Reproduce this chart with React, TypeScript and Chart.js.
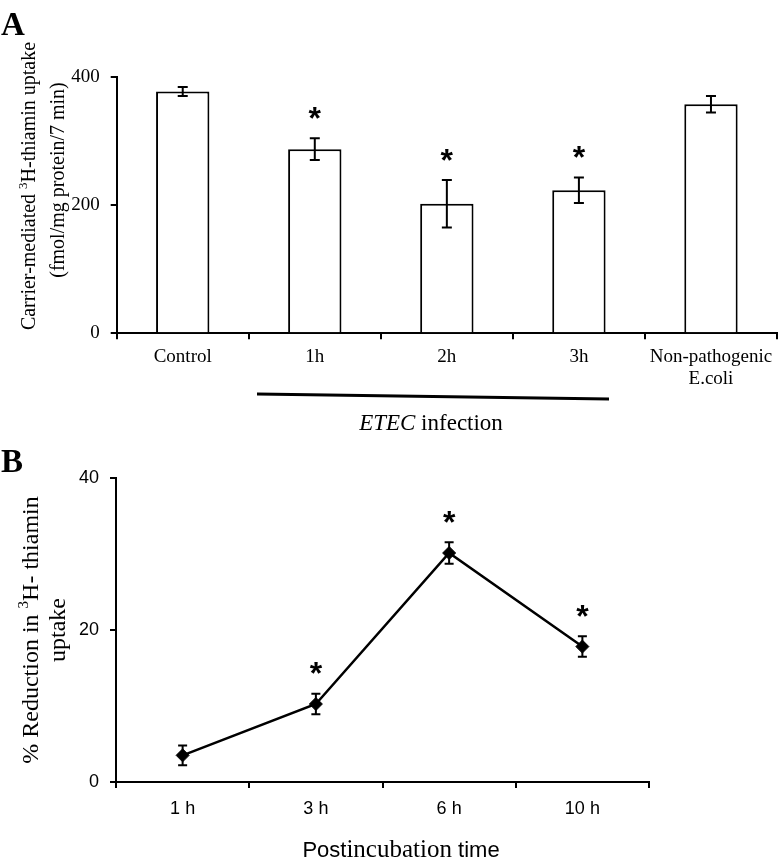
import React, { useEffect, useRef } from "react";
import { Chart, registerables } from "chart.js";

Chart.register(...registerables);

// ---------- Panel A data ----------
const groupLabels: (string | string[])[] = ["Control", "1h", "2h", "3h", ["Non-pathogenic", "E.coli"]];
const uptakeValues = [377, 287, 202, 223, 357];
const uptakeErrors = [7, 17, 37, 20, 13];
const uptakeSignificant = [false, true, true, true, false];
const uptakeTicks = [0, 200, 400];

// ---------- Panel B data ----------
const timeLabels = ["1 h", "3 h", "6 h", "10 h"];
const reductionValues = [3.5, 10.25, 30.1, 17.8];
const reductionErrors = [1.3, 1.35, 1.4, 1.35];
const reductionSignificant = [false, true, true, true];
const reductionTicks = [0, 20, 40];

const SERIF = "'Liberation Serif', 'Times New Roman', serif";
const SANS = "'Liberation Sans', Arial, sans-serif";

type Seg = { text: string; font: string; dy?: number };

function drawRich(ctx: CanvasRenderingContext2D, segs: Seg[], x: number, y: number, rot: number) {
  ctx.save();
  ctx.translate(x, y);
  ctx.rotate(rot);
  ctx.textBaseline = "alphabetic";
  ctx.textAlign = "left";
  ctx.fillStyle = "#000";
  let total = 0;
  const widths = segs.map((s) => {
    ctx.font = s.font;
    const w = ctx.measureText(s.text).width;
    total += w;
    return w;
  });
  let cx = -total / 2;
  segs.forEach((s, i) => {
    ctx.font = s.font;
    ctx.fillText(s.text, cx, s.dy || 0);
    cx += widths[i];
  });
  ctx.restore();
}

function drawStar(ctx: CanvasRenderingContext2D, x: number, cy: number) {
  ctx.save();
  ctx.font = `bold 32px ${SANS}`;
  ctx.textAlign = "center";
  ctx.textBaseline = "alphabetic";
  ctx.fillStyle = "#000";
  ctx.fillText("*", x, cy + 0.55 * 32);
  ctx.restore();
}

function drawErrorBars(
  chart: any,
  values: number[],
  errors: number[],
  significant: boolean[],
  cap: number
) {
  const ctx: CanvasRenderingContext2D = chart.ctx;
  const xs = chart.scales.x;
  const ys = chart.scales.y;
  ctx.save();
  ctx.strokeStyle = "#000";
  ctx.lineWidth = 2;
  values.forEach((v, i) => {
    const x = xs.getPixelForValue(i);
    const yHi = ys.getPixelForValue(v + errors[i]);
    const yLo = ys.getPixelForValue(v - errors[i]);
    ctx.beginPath();
    ctx.moveTo(x, yHi);
    ctx.lineTo(x, yLo);
    ctx.moveTo(x - cap, yHi);
    ctx.lineTo(x + cap, yHi);
    ctx.moveTo(x - cap, yLo);
    ctx.lineTo(x + cap, yLo);
    ctx.stroke();
  });
  ctx.restore();
  values.forEach((v, i) => {
    if (!significant[i]) return;
    const x = xs.getPixelForValue(i);
    const yHi = ys.getPixelForValue(v + errors[i]);
    drawStar(ctx, x, yHi - 27);
  });
}

const panelAPlugin = {
  id: "panelA",
  afterDatasetsDraw(chart: any) {
    drawErrorBars(chart, uptakeValues, uptakeErrors, uptakeSignificant, 5);
  },
  afterDraw(chart: any) {
    const ctx: CanvasRenderingContext2D = chart.ctx;
    ctx.save();
    ctx.font = `bold 33px ${SERIF}`;
    ctx.fillStyle = "#000";
    ctx.textAlign = "left";
    ctx.textBaseline = "alphabetic";
    ctx.fillText("A", 1, 35);
    ctx.restore();
    drawRich(
      ctx,
      [
        { text: "Carrier-mediated ", font: `20px ${SERIF}` },
        { text: "3", font: `13px ${SERIF}`, dy: -8 },
        { text: "H-thiamin uptake", font: `20px ${SERIF}` },
      ],
      35,
      186,
      -Math.PI / 2
    );
    drawRich(ctx, [{ text: "(fmol/mg protein/7 min)", font: `20px ${SERIF}` }], 64, 180, -Math.PI / 2);
    ctx.save();
    ctx.strokeStyle = "#000";
    ctx.lineWidth = 3;
    ctx.beginPath();
    ctx.moveTo(257, 394);
    ctx.lineTo(609, 399);
    ctx.stroke();
    ctx.restore();
    drawRich(
      ctx,
      [
        { text: "ETEC", font: `italic 23px ${SERIF}` },
        { text: " infection", font: `23px ${SERIF}` },
      ],
      431,
      430,
      0
    );
  },
};

const panelBPlugin = {
  id: "panelB",
  beforeDatasetsDraw(chart: any) {
    drawErrorBars(chart, reductionValues, reductionErrors, reductionSignificant, 4.5);
  },
  afterDraw(chart: any) {
    const ctx: CanvasRenderingContext2D = chart.ctx;
    ctx.save();
    ctx.font = `bold 33px ${SERIF}`;
    ctx.fillStyle = "#000";
    ctx.textAlign = "left";
    ctx.textBaseline = "alphabetic";
    ctx.fillText("B", 1, 32);
    ctx.restore();
    drawRich(
      ctx,
      [
        { text: "% Reduction in ", font: `24px ${SERIF}` },
        { text: "3", font: `15px ${SERIF}`, dy: -10 },
        { text: "H- thiamin", font: `24px ${SERIF}` },
      ],
      38,
      190,
      -Math.PI / 2
    );
    drawRich(ctx, [{ text: "uptake", font: `24px ${SERIF}` }], 65, 190, -Math.PI / 2);
    drawRich(
      ctx,
      [
        { text: "Post", font: `22px ${SANS}` },
        { text: "incubation", font: `25px ${SERIF}` },
        { text: " time", font: `22px ${SANS}` },
      ],
      401,
      417,
      0
    );
  },
};

function axisCommon(fontFamily: string, size: number, lineHeight: number, padding: number) {
  return {
    grid: {
      display: true,
      drawOnChartArea: false,
      drawTicks: true,
      tickLength: 6,
      color: "#000",
      lineWidth: 2,
    },
    border: { display: true, color: "#000", width: 2 },
    ticks: {
      color: "#000",
      font: { family: fontFamily, size, lineHeight },
      padding,
      maxRotation: 0,
      autoSkip: false,
    },
  };
}

export default function App() {
  const refA = useRef<HTMLCanvasElement | null>(null);
  const refB = useRef<HTMLCanvasElement | null>(null);

  useEffect(() => {
    const xA = axisCommon(SERIF, 19, 1.15, 7);
    const yA = axisCommon(SERIF, 19, 1.2, 11);
    const chartA = new Chart(refA.current as HTMLCanvasElement, {
      type: "bar",
      data: {
        labels: groupLabels as any,
        datasets: [
          {
            data: uptakeValues,
            backgroundColor: "#ffffff",
            borderColor: "#000000",
            borderWidth: 2,
            barPercentage: 0.404,
            categoryPercentage: 1,
          },
        ],
      },
      options: {
        responsive: false,
        animation: false,
        devicePixelRatio: 1,
        layout: { padding: { top: 76.7, right: 3, left: 0, bottom: 0 } },
        plugins: { legend: { display: false }, tooltip: { enabled: false } },
        scales: {
          x: {
            ...xA,
            offset: true,
            grid: { ...xA.grid, offset: true },
            afterFit: (s: any) => {
              s.height = 106.7;
            },
          } as any,
          y: {
            ...yA,
            min: 0,
            max: 400,
            afterBuildTicks: (s: any) => {
              s.ticks = uptakeTicks.map((v) => ({ value: v }));
            },
            afterFit: (s: any) => {
              s.width = 116.7;
            },
          } as any,
        },
      },
      plugins: [panelAPlugin],
    });

    const xB = axisCommon(SANS, 18, 1, 12);
    const yB = axisCommon(SANS, 18, 1, 11);
    const chartB = new Chart(refB.current as HTMLCanvasElement, {
      type: "line",
      data: {
        labels: timeLabels,
        datasets: [
          {
            data: reductionValues,
            borderColor: "#000000",
            borderWidth: 2.5,
            pointStyle: "rectRot",
            pointRadius: 6.5,
            pointBackgroundColor: "#000000",
            pointBorderColor: "#000000",
            pointBorderWidth: 1,
            tension: 0,
            fill: false,
          },
        ],
      },
      options: {
        responsive: false,
        animation: false,
        devicePixelRatio: 1,
        layout: { padding: { top: 37.7, right: 131, left: 0, bottom: 0 } },
        plugins: { legend: { display: false }, tooltip: { enabled: false } },
        scales: {
          x: {
            ...xB,
            offset: true,
            grid: { ...xB.grid, offset: true },
            afterFit: (s: any) => {
              s.height = 83;
            },
          } as any,
          y: {
            ...yB,
            min: 0,
            max: 40,
            afterBuildTicks: (s: any) => {
              s.ticks = reductionTicks.map((v) => ({ value: v }));
            },
            afterFit: (s: any) => {
              s.width = 116;
            },
          } as any,
        },
      },
      plugins: [panelBPlugin],
    });

    return () => {
      chartA.destroy();
      chartB.destroy();
    };
  }, []);

  return (
    <div
      style={{
        position: "absolute",
        left: 0,
        top: 0,
        width: 780,
        height: 865,
        background: "#ffffff",
      }}
    >
      <canvas
        ref={refA}
        width={780}
        height={440}
        style={{ position: "absolute", left: 0, top: 0, width: 780, height: 440 }}
      />
      <canvas
        ref={refB}
        width={780}
        height={425}
        style={{ position: "absolute", left: 0, top: 440, width: 780, height: 425 }}
      />
    </div>
  );
}
